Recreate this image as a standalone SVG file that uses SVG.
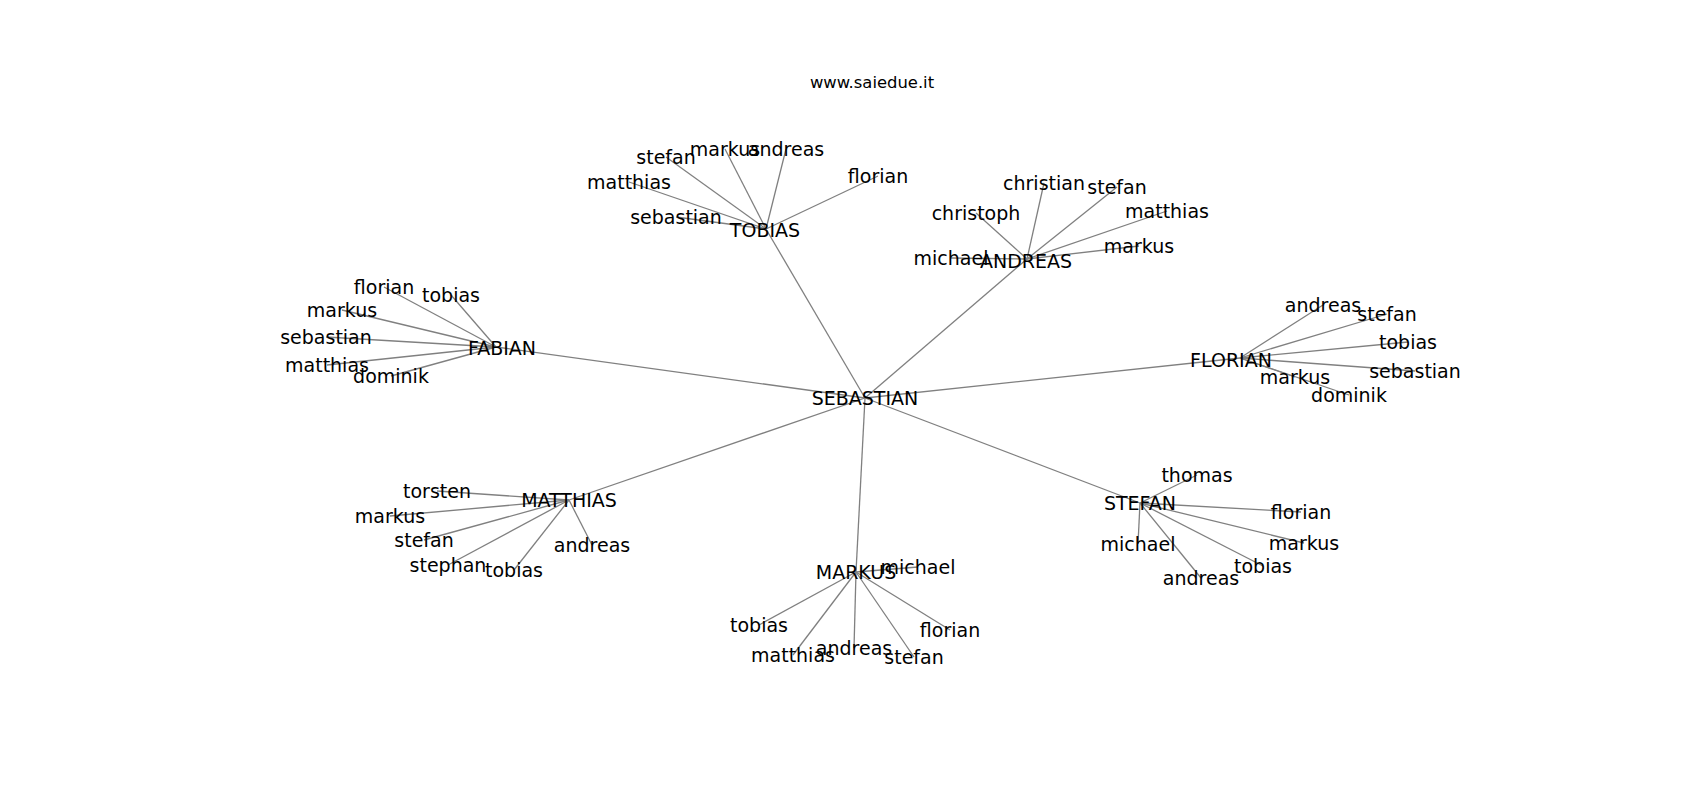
<svg xmlns="http://www.w3.org/2000/svg" width="1700" height="800" viewBox="0 0 1700 800">
<style>
  .bg{fill:#ffffff}
  .e{stroke:#808080;stroke-width:1.3;fill:none}
  .lbl{font-family:"DejaVu Sans","Liberation Sans",sans-serif;font-size:19px;fill:#000;text-anchor:middle}
  .title{font-family:"DejaVu Sans","Liberation Sans",sans-serif;font-size:16.4px;fill:#000;text-anchor:middle}
</style>
<rect class="bg" x="0" y="0" width="1700" height="800"/>
<text class="title" x="872" y="88">www.saiedue.it</text>
<g id="connectors">
  <!-- hub -->
  <line class="e" x1="865" y1="398" x2="766" y2="229"/>
  <line class="e" x1="865" y1="398" x2="1027" y2="259"/>
  <line class="e" x1="865" y1="398" x2="496" y2="347"/>
  <line class="e" x1="865" y1="398" x2="1240" y2="358"/>
  <line class="e" x1="865" y1="398" x2="569" y2="500"/>
  <line class="e" x1="865" y1="398" x2="856" y2="572"/>
  <line class="e" x1="865" y1="398" x2="1140" y2="503"/>
  <!-- TOBIAS -->
  <line class="e" x1="766" y1="229" x2="666" y2="157"/>
  <line class="e" x1="766" y1="229" x2="725" y2="149"/>
  <line class="e" x1="766" y1="229" x2="786" y2="149"/>
  <line class="e" x1="766" y1="229" x2="629" y2="182"/>
  <line class="e" x1="766" y1="229" x2="676" y2="217"/>
  <line class="e" x1="766" y1="229" x2="878" y2="176"/>
  <!-- ANDREAS -->
  <line class="e" x1="1027" y1="259" x2="1044" y2="183"/>
  <line class="e" x1="1027" y1="259" x2="1117" y2="187"/>
  <line class="e" x1="1027" y1="259" x2="1167" y2="211"/>
  <line class="e" x1="1027" y1="259" x2="976" y2="213"/>
  <line class="e" x1="1027" y1="259" x2="1139" y2="246"/>
  <line class="e" x1="1027" y1="259" x2="951" y2="258"/>
  <!-- FABIAN -->
  <line class="e" x1="496" y1="347" x2="384" y2="287"/>
  <line class="e" x1="496" y1="347" x2="451" y2="295"/>
  <line class="e" x1="496" y1="347" x2="342" y2="310"/>
  <line class="e" x1="496" y1="347" x2="326" y2="337"/>
  <line class="e" x1="496" y1="347" x2="327" y2="365"/>
  <line class="e" x1="496" y1="347" x2="391" y2="376"/>
  <!-- FLORIAN -->
  <line class="e" x1="1240" y1="358" x2="1323" y2="305"/>
  <line class="e" x1="1240" y1="358" x2="1387" y2="314"/>
  <line class="e" x1="1240" y1="358" x2="1408" y2="342"/>
  <line class="e" x1="1240" y1="358" x2="1415" y2="371"/>
  <line class="e" x1="1240" y1="358" x2="1295" y2="377"/>
  <line class="e" x1="1240" y1="358" x2="1349" y2="395"/>
  <!-- MATTHIAS -->
  <line class="e" x1="569" y1="500" x2="437" y2="491"/>
  <line class="e" x1="569" y1="500" x2="390" y2="516"/>
  <line class="e" x1="569" y1="500" x2="424" y2="540"/>
  <line class="e" x1="569" y1="500" x2="592" y2="545"/>
  <line class="e" x1="569" y1="500" x2="448" y2="565"/>
  <line class="e" x1="569" y1="500" x2="514" y2="570"/>
  <!-- MARKUS -->
  <line class="e" x1="856" y1="572" x2="918" y2="567"/>
  <line class="e" x1="856" y1="572" x2="759" y2="625"/>
  <line class="e" x1="856" y1="572" x2="950" y2="630"/>
  <line class="e" x1="856" y1="572" x2="793" y2="655"/>
  <line class="e" x1="856" y1="572" x2="854" y2="648"/>
  <line class="e" x1="856" y1="572" x2="914" y2="657"/>
  <!-- STEFAN -->
  <line class="e" x1="1140" y1="503" x2="1197" y2="475"/>
  <line class="e" x1="1140" y1="503" x2="1301" y2="512"/>
  <line class="e" x1="1140" y1="503" x2="1138" y2="544"/>
  <line class="e" x1="1140" y1="503" x2="1304" y2="543"/>
  <line class="e" x1="1140" y1="503" x2="1263" y2="566"/>
  <line class="e" x1="1140" y1="503" x2="1201" y2="578"/>
</g>
<g id="n-sebastian-hub"><text class="lbl" x="865" y="405">SEBASTIAN</text></g>
<g id="n-tobias"><text class="lbl" x="765" y="237">TOBIAS</text></g>
<g id="n-andreas"><text class="lbl" x="1026" y="268">ANDREAS</text></g>
<g id="n-fabian"><text class="lbl" x="502" y="355">FABIAN</text></g>
<g id="n-florian"><text class="lbl" x="1231" y="367">FLORIAN</text></g>
<g id="n-matthias"><text class="lbl" x="569" y="507">MATTHIAS</text></g>
<g id="n-markus"><text class="lbl" x="856" y="579">MARKUS</text></g>
<g id="n-stefan"><text class="lbl" x="1140" y="510">STEFAN</text></g>

<g id="t-stefan"><text class="lbl" x="666" y="164">stefan</text></g>
<g id="t-markus"><text class="lbl" x="725" y="156">markus</text></g>
<g id="t-andreas"><text class="lbl" x="786" y="156">andreas</text></g>
<g id="t-matthias"><text class="lbl" x="629" y="189">matthias</text></g>
<g id="t-sebastian"><text class="lbl" x="676" y="224">sebastian</text></g>
<g id="t-florian"><text class="lbl" x="878" y="183">florian</text></g>

<g id="a-christian"><text class="lbl" x="1044" y="190">christian</text></g>
<g id="a-stefan"><text class="lbl" x="1117" y="194">stefan</text></g>
<g id="a-matthias"><text class="lbl" x="1167" y="218">matthias</text></g>
<g id="a-christoph"><text class="lbl" x="976" y="220">christoph</text></g>
<g id="a-markus"><text class="lbl" x="1139" y="253">markus</text></g>
<g id="a-michael"><text class="lbl" x="951" y="265">michael</text></g>

<g id="fb-florian"><text class="lbl" x="384" y="294">florian</text></g>
<g id="fb-tobias"><text class="lbl" x="451" y="302">tobias</text></g>
<g id="fb-markus"><text class="lbl" x="342" y="317">markus</text></g>
<g id="fb-sebastian"><text class="lbl" x="326" y="344">sebastian</text></g>
<g id="fb-matthias"><text class="lbl" x="327" y="372">matthias</text></g>
<g id="fb-dominik"><text class="lbl" x="391" y="383">dominik</text></g>

<g id="fl-andreas"><text class="lbl" x="1323" y="312">andreas</text></g>
<g id="fl-stefan"><text class="lbl" x="1387" y="321">stefan</text></g>
<g id="fl-tobias"><text class="lbl" x="1408" y="349">tobias</text></g>
<g id="fl-sebastian"><text class="lbl" x="1415" y="378">sebastian</text></g>
<g id="fl-markus"><text class="lbl" x="1295" y="384">markus</text></g>
<g id="fl-dominik"><text class="lbl" x="1349" y="402">dominik</text></g>

<g id="mt-torsten"><text class="lbl" x="437" y="498">torsten</text></g>
<g id="mt-markus"><text class="lbl" x="390" y="523">markus</text></g>
<g id="mt-stefan"><text class="lbl" x="424" y="547">stefan</text></g>
<g id="mt-andreas"><text class="lbl" x="592" y="552">andreas</text></g>
<g id="mt-stephan"><text class="lbl" x="448" y="572">stephan</text></g>
<g id="mt-tobias"><text class="lbl" x="514" y="577">tobias</text></g>

<g id="mk-michael"><text class="lbl" x="918" y="574">michael</text></g>
<g id="mk-tobias"><text class="lbl" x="759" y="632">tobias</text></g>
<g id="mk-florian"><text class="lbl" x="950" y="637">florian</text></g>
<g id="mk-matthias"><text class="lbl" x="793" y="662">matthias</text></g>
<g id="mk-andreas"><text class="lbl" x="854" y="655">andreas</text></g>
<g id="mk-stefan"><text class="lbl" x="914" y="664">stefan</text></g>

<g id="s-thomas"><text class="lbl" x="1197" y="482">thomas</text></g>
<g id="s-florian"><text class="lbl" x="1301" y="519">florian</text></g>
<g id="s-michael"><text class="lbl" x="1138" y="551">michael</text></g>
<g id="s-markus"><text class="lbl" x="1304" y="550">markus</text></g>
<g id="s-tobias"><text class="lbl" x="1263" y="573">tobias</text></g>
<g id="s-andreas"><text class="lbl" x="1201" y="585">andreas</text></g>
</svg>
